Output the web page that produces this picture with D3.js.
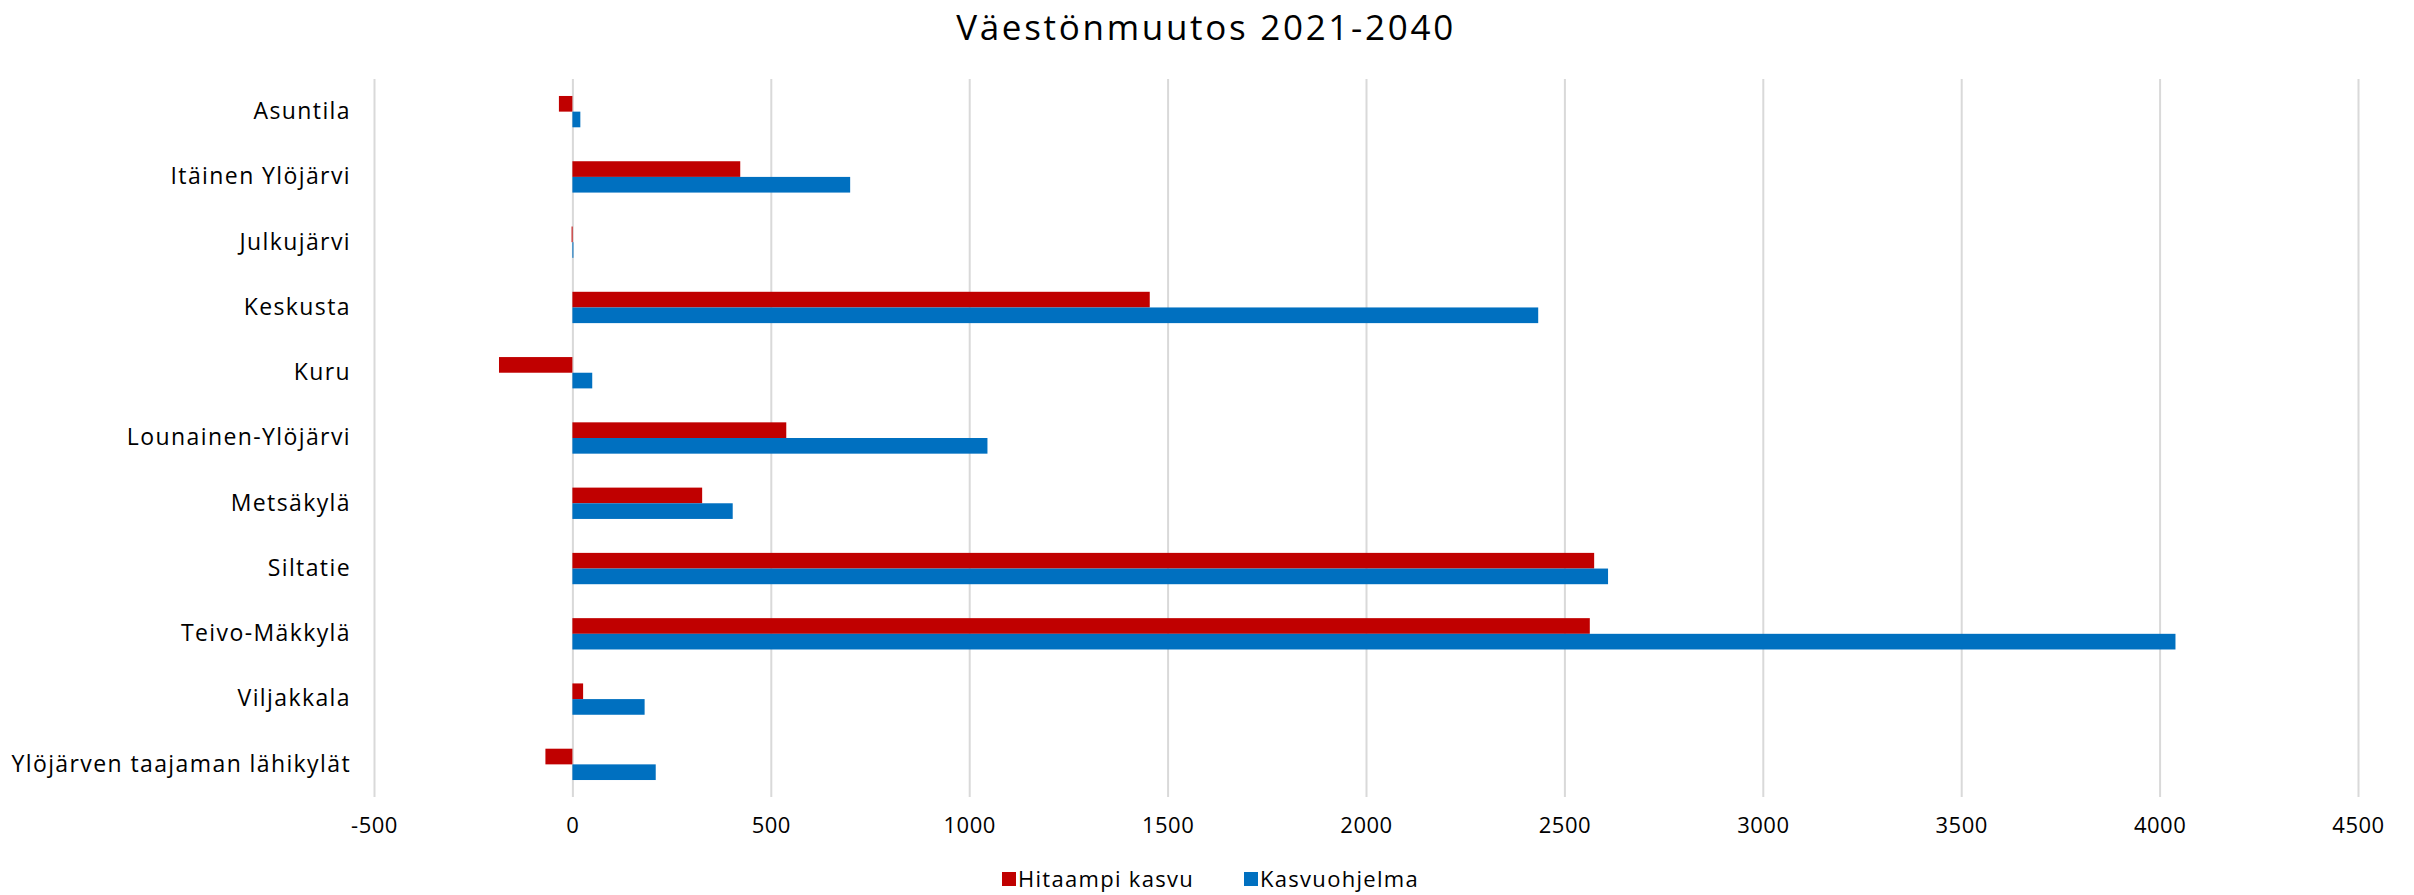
<!DOCTYPE html>
<html>
<head>
<meta charset="utf-8">
<script src="https://cdn.jsdelivr.net/npm/d3@7"></script>
<style>
  body { margin: 0; background: #fff; }
  svg text { font-family: "Open Sans", "Noto Sans", sans-serif; fill: #000; }
</style>
</head>
<body>
<svg id="chart"></svg>
<script>
// canvas size
const width = 2414;
const height = 895;

// data
const categories = [
    "Asuntila",
    "Itäinen Ylöjärvi",
    "Julkujärvi",
    "Keskusta",
    "Kuru",
    "Lounainen-Ylöjärvi",
    "Metsäkylä",
    "Siltatie",
    "Teivo-Mäkkylä",
    "Viljakkala",
    "Ylöjärven taajaman lähikylät"
];
const seriesNames = ["Hitaampi kasvu", "Kasvuohjelma"];
const hitaampiKasvu = [-34, 423, -2, 1455, -185, 539, 327, 2575, 2564, 27, -68];
const kasvuohjelma = [20, 700, 0, 2434, 50, 1046, 404, 2610, 4040, 182, 210];
const tickValues = [-500, 0, 500, 1000, 1500, 2000, 2500, 3000, 3500, 4000, 4500];

let colors = [
    '#C00000', // Hitaampi kasvu
    '#0070C0'  // Kasvuohjelma
];

// plot area
let plotLeft = 374, plotRight = 2358, plotTop = 79, plotBottom = 797;

const svg = d3.select("#chart")
    .attr("width", width)
    .attr("height", height);

const x = d3.scaleLinear()
    .domain([-500, 4500])
    .range([plotLeft, plotRight]);

const y = d3.scaleBand()
    .domain(categories)
    .range([plotTop, plotBottom]);

// group of two bars takes ~48% of the band
const groupH = y.bandwidth() * 0.48;
const inner = d3.scaleBand()
    .domain(seriesNames)
    .range([0, groupH]);

// gridlines
svg.append("g")
    .attr("transform", `translate(0, ${plotBottom})`)
    .call(d3.axisBottom(x).tickValues(tickValues).tickSize(-(plotBottom - plotTop)).tickFormat(""))
    .call(g => g.select(".domain").remove())
    .call(g => g.selectAll("line").attr("stroke", "#d9d9d9").attr("stroke-width", 2));

// rows of the table
let rows = categories.map((c, i) => ({
    name: c,
    values: [
        {series: seriesNames[0], value: hitaampiKasvu[i]},
        {series: seriesNames[1], value: kasvuohjelma[i]}
    ]
}));

const color = d3.scaleOrdinal()
    .domain(seriesNames)
    .range(colors);

const groups = svg.selectAll(".cat")
    .data(rows)
    .join("g")
    .attr("class", "cat")
    .attr("transform", d => `translate(0, ${y(d.name) + (y.bandwidth() - groupH) / 2})`);

groups.selectAll("rect")
    .data(d => d.values)
    .join("rect")
    .attr("x", d => x(Math.min(0, d.value)))
    .attr("width", d => Math.max(1, Math.abs(x(d.value) - x(0))))
    .attr("y", d => inner(d.series))
    .attr("height", inner.bandwidth())
    .style("fill", d => color(d.series));

// category labels
svg.append("g")
    .attr("transform", `translate(${plotLeft}, 0)`)
    .call(d3.axisLeft(y).tickSize(0).tickPadding(23))
    .call(g => g.select(".domain").remove())
    .selectAll("text")
    .style("font-size", "23px")
    .style("letter-spacing", "1.4px");

// value labels (plain hyphen for negatives, like the original)
svg.append("g")
    .attr("transform", `translate(0, ${plotBottom})`)
    .call(d3.axisBottom(x).tickValues(tickValues).tickSize(0).tickPadding(20).tickFormat(d => String(d)))
    .call(g => g.select(".domain").remove())
    .selectAll("text")
    .style("font-size", "22px")
    .style("letter-spacing", "0.5px");

// title
svg.append("text")
    .attr("x", 1206)
    .attr("y", 40)
    .attr("text-anchor", "middle")
    .style("font-size", "35px")
    .style("letter-spacing", "2.7px")
    .text("Väestönmuutos 2021-2040");

// legend
const legendX = [1002, 1244];
const legend = svg.append("g").attr("class", "legend");
const legendItems = legend.selectAll(".legend-item")
    .data(seriesNames)
    .join("g")
    .attr("class", "legend-item")
    .attr("transform", (d, i) => `translate(${legendX[i]}, 880)`);

legendItems.append("rect")
    .attr("x", 0)
    .attr("y", -8)
    .attr("width", 14)
    .attr("height", 14)
    .style("fill", d => color(d));
legendItems.append("text")
    .attr("x", 16)
    .attr("y", 7)
    .style("font-size", "22px")
    .style("letter-spacing", "1.3px")
    .text(d => d);
</script>
</body>
</html>
